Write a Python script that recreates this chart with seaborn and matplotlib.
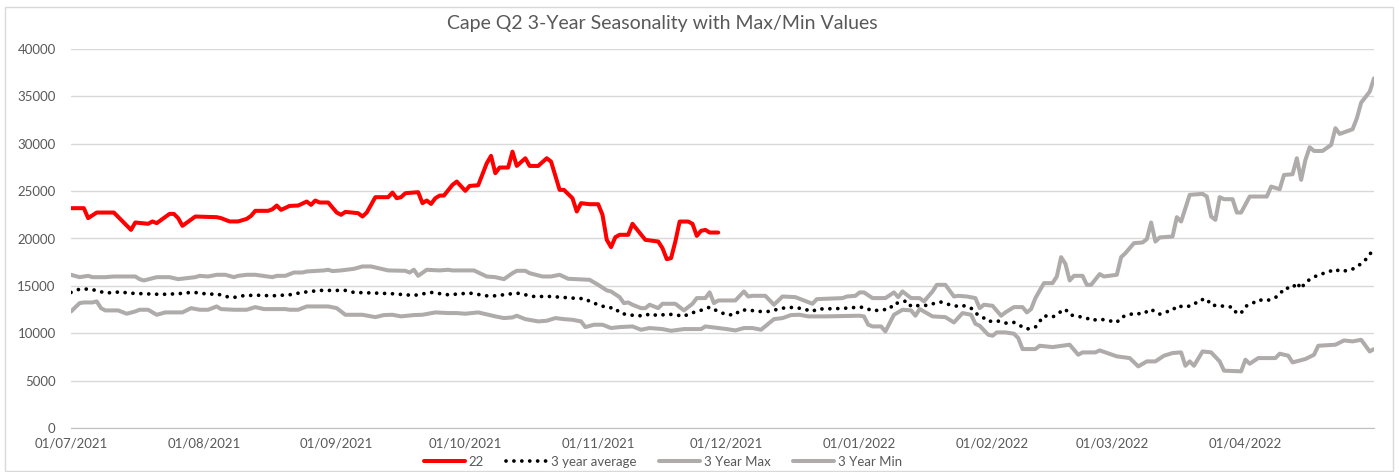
import pandas as pd
import matplotlib
matplotlib.use('Agg')
import matplotlib.pyplot as plt
import matplotlib.dates as mdates
from matplotlib.patches import Rectangle
import seaborn as sns

START = pd.Timestamp('2021-07-01')
END = pd.Timestamp('2022-05-01')

# day offsets from 01/07/2021 and values
red_days = [0, 3, 4, 6, 10, 14, 15, 18, 19, 20, 23, 24, 25, 26, 29, 34, 35, 37, 39, 41,
            42, 43, 46, 47, 48, 49, 51, 53, 55, 56, 57, 58, 60, 62, 63, 64, 67, 68, 69, 70,
            71, 74, 75, 76, 77, 78, 81, 82, 83, 84, 85, 86, 87, 89, 90, 92, 93, 95, 97, 98,
            99, 100, 102, 103, 104, 106, 107, 109, 111, 112, 114, 115, 117, 118, 119, 121, 123, 124, 125, 126,
            127, 128, 130, 131, 132, 134, 137, 138, 139, 140, 141, 142, 144, 145, 146, 147, 148, 149, 151]
red_vals = [23200, 23200, 22150, 22740, 22740, 20910, 21690, 21550, 21800, 21620, 22600, 22600, 22150, 21340, 22320, 22250, 22150, 21800, 21800, 22070,
            22390, 22920, 22920, 23090, 23480, 23020, 23440, 23480, 23900, 23550, 24010, 23800, 23800, 22740, 22500, 22810, 22670, 22320, 22740, 23550,
            24360, 24360, 24850, 24250, 24360, 24780, 24890, 23730, 24010, 23650, 24250, 24530, 24530, 25660, 26010, 25030, 25550, 25620, 27940, 28720,
            26890, 27490, 27490, 29170, 27660, 28470, 27660, 27660, 28470, 28120, 25130, 25130, 24250, 22850, 23730, 23620, 23620, 22500, 19860, 19090,
            20140, 20390, 20390, 21550, 20980, 19860, 19680, 18980, 17820, 17930, 19680, 21790, 21790, 21550, 20280, 20810, 20910, 20630, 20630]

avg_days = [0, 2, 4, 6, 8, 12, 13, 17, 21, 25, 28, 30, 32, 34, 36, 38, 40, 43, 47, 51,
            54, 58, 62, 64, 66, 71, 75, 80, 84, 88, 93, 97, 99, 104, 108, 112, 117, 120, 121, 123,
            125, 127, 128, 130, 132, 134, 135, 137, 139, 141, 143, 144, 146, 148, 149, 151, 153, 155, 156, 158,
            160, 163, 165, 167, 169, 171, 173, 174, 180, 184, 185, 187, 191, 192, 193, 195, 196, 198, 200, 202,
            203, 205, 207, 208, 210, 211, 213, 214, 216, 218, 220, 221, 223, 225, 226, 227, 229, 231, 232, 233,
            235, 237, 238, 240, 242, 244, 245, 247, 248, 250, 252, 253, 254, 255, 257, 258, 260, 262, 263, 265,
            266, 268, 269, 271, 272, 273, 274, 276, 277, 279, 281, 282, 283, 285, 286, 287, 288, 290, 291, 293,
            295, 296, 298, 299, 301, 302, 303, 304]
avg_vals = [14310, 14660, 14660, 14520, 14240, 14380, 14240, 14170, 14100, 14170, 14310, 14270, 14100, 14170, 13880, 13780, 13950, 14020, 13950, 14060,
            14310, 14520, 14520, 14520, 14310, 14240, 14170, 13990, 14310, 14060, 14240, 13950, 13950, 14240, 13880, 13880, 13710, 13640, 13360, 13010,
            12720, 12650, 12130, 11950, 11850, 11850, 12060, 11850, 12020, 11950, 11780, 12020, 12300, 12550, 12760, 12300, 11950, 11950, 12410, 12480,
            12300, 12300, 12550, 12720, 12720, 12550, 12300, 12550, 12620, 12760, 12720, 12370, 12550, 13180, 13180, 13430, 12830, 12940, 12940, 13250,
            13290, 13010, 12830, 12940, 12650, 12130, 11600, 11250, 11320, 11070, 11140, 10900, 10440, 10650, 11250, 11850, 11700, 12300, 12550, 11950,
            11780, 11600, 11350, 11490, 11350, 11140, 11700, 11950, 12130, 12020, 12550, 12200, 12020, 12200, 12410, 12900, 12760, 13010, 13460, 13640,
            12940, 12940, 12830, 12760, 12060, 12130, 12830, 13250, 13530, 13430, 13780, 14060, 14760, 14760, 15360, 14690, 15400, 15920, 16170, 16410,
            16770, 16520, 16630, 16770, 17330, 17750, 18280, 19090]

max_days = [0, 2, 4, 5, 8, 10, 15, 16, 17, 20, 23, 25, 29, 30, 32, 34, 36, 38, 39, 41,
            43, 46, 47, 48, 50, 52, 54, 55, 59, 60, 61, 63, 66, 68, 70, 74, 78, 79, 80, 81,
            83, 86, 88, 89, 94, 97, 99, 101, 103, 104, 106, 107, 110, 112, 114, 116, 121, 123, 125, 126,
            128, 129, 130, 131, 133, 134, 135, 137, 138, 141, 143, 145, 146, 148, 149, 150, 151, 155, 157, 158,
            159, 162, 164, 166, 169, 173, 174, 180, 181, 183, 184, 185, 187, 190, 192, 193, 194, 196, 198, 199,
            201, 202, 204, 206, 207, 209, 211, 212, 213, 215, 217, 218, 220, 222, 223, 224, 225, 227, 229, 230,
            231, 232, 233, 234, 236, 237, 238, 240, 241, 244, 245, 246, 248, 250, 251, 252, 253, 254, 257, 258,
            259, 261, 264, 265, 266, 267, 268, 269, 271, 272, 273, 275, 279, 280, 282, 283, 285, 286, 287, 288,
            289, 290, 292, 294, 295, 296, 299, 300, 301, 303, 304]
max_vals = [16170, 15920, 16060, 15920, 15920, 15990, 15990, 15710, 15570, 15920, 15920, 15710, 15920, 16060, 15990, 16170, 16170, 15920, 16060, 16170,
            16170, 15990, 15920, 16060, 16060, 16410, 16410, 16520, 16630, 16700, 16560, 16630, 16800, 17050, 17050, 16630, 16590, 16410, 16700, 16060,
            16700, 16630, 16700, 16630, 16630, 15990, 15920, 15710, 16340, 16590, 16590, 16340, 15990, 15990, 16170, 15750, 15640, 15110, 14520, 14410,
            13810, 13180, 13250, 13010, 12650, 12650, 13010, 12650, 13110, 13110, 12410, 13110, 13710, 13710, 14310, 13180, 13460, 13460, 14410, 13880,
            13950, 13950, 13010, 13880, 13810, 13110, 13600, 13710, 13880, 13950, 14310, 14310, 13710, 13710, 14310, 13810, 14410, 13710, 13710, 13360,
            14410, 15110, 15110, 13880, 13950, 13880, 13710, 12650, 13010, 12900, 11850, 12200, 12760, 12760, 12200, 12550, 13710, 15290, 15290, 15990,
            18030, 17330, 15570, 16060, 16060, 15110, 15110, 16240, 15990, 16170, 18030, 18450, 19510, 19580, 19930, 21690, 19680, 20110, 20210, 22250,
            21790, 24610, 24710, 24430, 22320, 21970, 24360, 24150, 24150, 22740, 22740, 24430, 24430, 25480, 25200, 26710, 26780, 28470, 26190, 28300,
            29630, 29240, 29240, 29880, 31640, 31040, 31530, 32690, 34340, 35500, 36910]

min_days = [0, 2, 3, 5, 6, 7, 8, 11, 13, 15, 16, 18, 20, 22, 26, 28, 30, 32, 34, 35,
            38, 41, 43, 45, 50, 51, 53, 55, 60, 62, 64, 68, 71, 73, 75, 77, 80, 82, 85, 88,
            90, 92, 95, 99, 101, 103, 104, 106, 109, 111, 113, 115, 117, 119, 120, 122, 124, 126, 128, 131,
            133, 135, 138, 140, 143, 147, 148, 153, 155, 157, 159, 161, 164, 166, 168, 170, 172, 176, 184, 185,
            186, 187, 189, 190, 192, 194, 196, 197, 198, 201, 204, 206, 208, 210, 211, 212, 214, 215, 216, 218,
            220, 221, 222, 225, 226, 229, 233, 235, 236, 239, 240, 244, 247, 249, 251, 253, 255, 257, 259, 260,
            261, 262, 264, 266, 268, 269, 273, 274, 275, 277, 281, 282, 284, 285, 288, 290, 291, 295, 297, 299,
            301, 303, 304]
min_vals = [12300, 13180, 13250, 13250, 13360, 12650, 12410, 12410, 12060, 12300, 12480, 12480, 11950, 12200, 12200, 12650, 12480, 12480, 12830, 12550,
            12480, 12480, 12760, 12550, 12550, 12480, 12480, 12830, 12830, 12650, 11950, 11950, 11700, 11920, 11950, 11780, 11920, 11950, 12200, 12130,
            12130, 12060, 12200, 11780, 11600, 11670, 11850, 11490, 11250, 11320, 11600, 11490, 11420, 11250, 10650, 10900, 10900, 10550, 10650, 10720,
            10370, 10550, 10440, 10260, 10440, 10440, 10720, 10440, 10300, 10550, 10550, 10370, 11490, 11600, 11920, 11950, 11780, 11780, 11850, 11780,
            10900, 10720, 10720, 10190, 11950, 12480, 12410, 11850, 12550, 11780, 11700, 11140, 12130, 11950, 11000, 10790, 9840, 9740, 10090, 10090,
            9950, 9490, 8330, 8330, 8680, 8540, 8790, 7730, 7980, 7980, 8190, 7560, 7380, 6500, 7030, 7030, 7630, 7910, 7980, 6570,
            7030, 6570, 8080, 7980, 7030, 6050, 5980, 7210, 6780, 7380, 7380, 7840, 7630, 6920, 7280, 7730, 8680, 8790, 9240, 9140,
            9310, 8080, 8330]

GREY = '#AFABAB'
TEXT = '#595959'


def series(days, vals):
    assert len(days) == len(vals)
    return pd.DataFrame({'date': START + pd.to_timedelta(days, unit='D'), 'value': vals})


def main():
    sns.set_style('white')
    plt.rcParams['font.family'] = ['Lato', 'DejaVu Sans']

    W, H = 1399, 472
    fig = plt.figure(figsize=(W / 100, H / 100), dpi=100)
    ax = fig.add_axes([71 / W, 1 - 428 / H, (1374 - 71) / W, (428 - 49) / H])

    sns.lineplot(data=series(red_days, red_vals), x='date', y='value', ax=ax, color='#FF0000',
                 lw=2.9, label='22', zorder=5)
    sns.lineplot(data=series(avg_days, avg_vals), x='date', y='value', ax=ax, color='black',
                 lw=2.7, linestyle=(0, (0.01, 2.1)), dash_capstyle='round', label='3 year average', zorder=4)
    sns.lineplot(data=series(max_days, max_vals), x='date', y='value', ax=ax, color=GREY,
                 lw=2.9, label='3 Year Max', zorder=3)
    sns.lineplot(data=series(min_days, min_vals), x='date', y='value', ax=ax, color=GREY,
                 lw=2.9, label='3 Year Min', zorder=3)

    ax.set_xlim(START, END)
    ax.set_ylim(0, 40000)
    ax.set_yticks(range(0, 40001, 5000))
    ax.xaxis.set_major_locator(mdates.MonthLocator(bymonth=[7, 8, 9, 10, 11, 12, 1, 2, 3, 4]))
    ax.xaxis.set_minor_locator(mdates.MonthLocator(bymonth=[5]))
    ax.xaxis.set_major_formatter(mdates.DateFormatter('%d/%m/%Y'))
    ax.set_xlabel('')
    ax.set_ylabel('')

    ax.yaxis.grid(True, color='#D9D9D9', lw=1)
    ax.set_axisbelow(True)
    for side in ['left', 'top', 'right']:
        ax.spines[side].set_visible(False)
    ax.spines['bottom'].set_color('#BFBFBF')
    ax.tick_params(axis='x', which='both', direction='out', length=5, color='#BFBFBF',
                   labelsize=9.5, labelcolor=TEXT, pad=2)
    ax.tick_params(axis='y', length=0, labelsize=9.5, labelcolor=TEXT, pad=11)

    fig.text(662 / W, 1 - 23 / H, 'Cape Q2 3-Year Seasonality with Max/Min Values',
             ha='center', va='center', fontsize=14, color=TEXT)

    ax.legend(loc='center', bbox_to_anchor=(663 / W, 1 - 462 / H), bbox_transform=fig.transFigure,
              ncol=4, frameon=False, fontsize=9.5, labelcolor=TEXT, handlelength=3.1,
              handletextpad=0.3, columnspacing=1.7)

    fig.patches.append(Rectangle((5 / W, 1 / H), 1388 / W, 464 / H, transform=fig.transFigure,
                                 fill=False, edgecolor='#D9D9D9', lw=1))

    plt.savefig('out.png', dpi=100)
    plt.close()


if __name__ == "__main__":
    main()
